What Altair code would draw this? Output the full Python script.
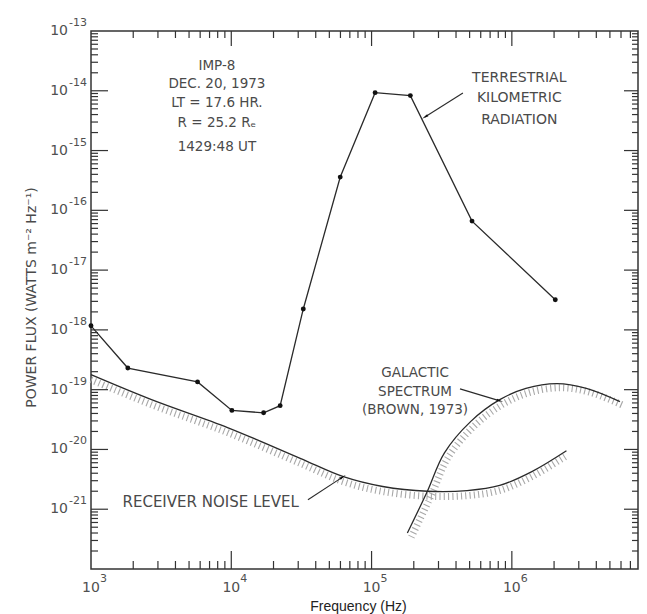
import altair as alt
import pandas as pd

# ---------------- data ----------------
tkr_freq = [1.0e3, 1.83e3, 5.75e3, 1.01e4, 1.7e4, 2.23e4, 3.26e4, 5.98e4, 1.06e5, 1.89e5, 5.2e5, 2.04e6]
tkr_flux = [1.17e-18, 2.3e-19, 1.35e-19, 4.5e-20, 4.1e-20, 5.4e-20, 2.24e-18, 3.6e-16, 9.3e-15, 8.3e-15, 6.6e-17, 3.2e-18]

noise_freq = [1.0e3, 2.7e3, 9.5e3, 3.1e4, 6.3e4, 1.2e5, 2.5e5, 4.8e5, 8.2e5, 1.4e6, 2.45e6]
noise_flux = [1.78e-19, 6.8e-20, 2.3e-20, 7.1e-21, 3.5e-21, 2.4e-21, 2.0e-21, 2.05e-21, 2.5e-21, 4.3e-21, 9.5e-21]

gal_freq = [1.8e5, 2.5e5, 3.3e5, 5.1e5, 8.2e5, 1.26e6, 2.1e6, 3.4e6, 5.9e6]
gal_flux = [4.0e-22, 2.0e-21, 8.7e-21, 2.95e-20, 6.8e-20, 1.05e-19, 1.26e-19, 1.05e-19, 6.3e-20]

imp_text = ["IMP-8", "DEC. 20, 1973", "LT = 17.6 HR.", "R = 25.2 Rₑ", "1429:48 UT"]
imp_freq = [7.9e3, 7.9e3, 7.9e3, 7.9e3, 7.9e3]
imp_flux = [2.6e-14, 1.3e-14, 6.25e-15, 2.9e-15, 1.15e-15]

tkr_text = ["TERRESTRIAL", "KILOMETRIC", "RADIATION"]
tkr_text_freq = [1.13e6, 1.13e6, 1.13e6]
tkr_text_flux = [1.64e-14, 7.6e-15, 3.25e-15]

gal_text = ["GALACTIC", "SPECTRUM", "(BROWN, 1973)"]
gal_text_freq = [2.04e5, 2.04e5, 2.04e5]
gal_text_flux = [1.91e-19, 9.2e-20, 4.6e-20]

noise_text = ["RECEIVER NOISE LEVEL"]
noise_text_freq = [7.13e3]
noise_text_flux = [1.33e-21]

# leader lines: (start, head) pairs
lead_id = ["tkr", "tkr", "gal", "gal", "noise", "noise"]
lead_freq = [4.48e5, 2.40e5, 4.27e5, 8.22e5, 3.52e4, 6.25e4]
lead_flux = [9.18e-15, 3.65e-15, 1.03e-19, 6.5e-20, 1.44e-21, 3.48e-21]
head_freq = [2.40e5, 8.22e5, 6.25e4]
head_flux = [3.65e-15, 6.5e-20, 3.48e-21]
head_angle = [238, 107, 57]

x_label_exps = [3, 4, 5, 6]
y_label_exps = [-21, -20, -19, -18, -17, -16, -15, -14, -13]

# ---------------- helpers ----------------
W, H = 547, 538
XMAX = 7.93e6

xscale = alt.Scale(type="log", domain=[1e3, XMAX], nice=False)
yscale = alt.Scale(type="log", domain=[1e-22, 1e-13], nice=False)

INK = "#2a2a2a"
TXT = "#4a4a4a"
LAB = "#505050"
FONT = "DejaVu Sans"

x_axis = alt.Axis(
    labels=False, ticks=False, tickSize=0, domain=False, grid=False,
    title="Frequency (Hz)", titleFont="Liberation Sans", titleFontSize=14,
    titleFontWeight="normal", titleColor="#222222",
    titleX=267, titleY=41, titleBaseline="alphabetic", titleAlign="center",
)
y_axis = alt.Axis(
    labels=False, ticks=False, tickSize=0, domain=False, grid=False,
    title="POWER  FLUX  (WATTS  m⁻²  Hz⁻¹)", titleFont=FONT, titleFontSize=14,
    titleFontWeight="normal", titleColor=TXT, titleAngle=270,
    titleX=-56, titleY=266, titleBaseline="alphabetic", titleAlign="center",
)

tkr_df = pd.DataFrame({"f": tkr_freq, "p": tkr_flux})
noise_df = pd.DataFrame({"f": noise_freq, "p": noise_flux})
gal_df = pd.DataFrame({"f": gal_freq, "p": gal_flux})

X = alt.X("f:Q", scale=xscale, axis=x_axis)
Y = alt.Y("p:Q", scale=yscale, axis=y_axis)
Xn = alt.X("f:Q", scale=xscale)
Yn = alt.Y("p:Q", scale=yscale)

# hatching (dashed thick stroke just below the curves)
noise_hatch = alt.Chart(noise_df).mark_line(
    interpolate="catmull-rom", strokeWidth=7, strokeDash=[1.1, 3.2], color="#a8a8a8", yOffset=5
).encode(x=X, y=Y)
gal_hatch = alt.Chart(gal_df).mark_line(
    interpolate="catmull-rom", strokeWidth=7, strokeDash=[1.1, 3.2], color="#a8a8a8", yOffset=4, xOffset=4
).encode(x=Xn, y=Yn)

noise_line = alt.Chart(noise_df).mark_line(interpolate="catmull-rom", strokeWidth=1.3, color=INK).encode(x=Xn, y=Yn)
gal_line = alt.Chart(gal_df).mark_line(interpolate="catmull-rom", strokeWidth=1.3, color=INK).encode(x=Xn, y=Yn)
tkr_line = alt.Chart(tkr_df).mark_line(strokeWidth=1.3, color=INK).encode(x=Xn, y=Yn)
tkr_pts = alt.Chart(tkr_df).mark_point(filled=True, size=24, color="#111111", opacity=1).encode(x=Xn, y=Yn)

lead_df = pd.DataFrame({"f": lead_freq, "p": lead_flux, "id": lead_id})
leads = alt.Chart(lead_df).mark_line(strokeWidth=1.1, color=INK).encode(x=Xn, y=Yn, detail="id:N")
head_df = pd.DataFrame({"f": head_freq, "p": head_flux, "a": head_angle})
heads = alt.Chart(head_df).mark_point(
    filled=True, size=45, color="#111111", opacity=1, shape="M0,-1L0.35,1L-0.35,1Z"
).encode(x=Xn, y=Yn, angle=alt.Angle("a:Q", scale=None))


def text_layer(texts, freqs, fluxes, size):
    df = pd.DataFrame({"f": freqs, "p": fluxes, "t": texts})
    return alt.Chart(df).mark_text(
        font=FONT, fontSize=size, color=TXT, align="center", baseline="middle"
    ).encode(x=Xn, y=Yn, text="t:N")


imp_layer = text_layer(imp_text, imp_freq, imp_flux, 13.5)
tkr_txt = text_layer(tkr_text, tkr_text_freq, tkr_text_flux, 14)
gal_txt = text_layer(gal_text, gal_text_freq, gal_text_flux, 13.5)
noise_txt = text_layer(noise_text, noise_text_freq, noise_text_flux, 15)

# tick labels: "10" with a raised exponent
xl_df = pd.DataFrame({"f": [10.0 ** e for e in x_label_exps], "e": [str(e) for e in x_label_exps]})
x_base = alt.Chart(xl_df).mark_text(
    font=FONT, fontSize=14, color=LAB, align="center", baseline="middle"
).encode(x=Xn, y=alt.value(H + 19), text=alt.value("10"))
x_exp = alt.Chart(xl_df).mark_text(
    font=FONT, fontSize=11, color=LAB, align="left", baseline="middle", dx=9
).encode(x=Xn, y=alt.value(H + 10), text="e:N")

yl_df = pd.DataFrame({"p": [10.0 ** e for e in y_label_exps], "e": [str(e) for e in y_label_exps]})
y_base = alt.Chart(yl_df).mark_text(
    font=FONT, fontSize=14, color=LAB, align="right", baseline="middle"
).encode(y=Yn, x=alt.value(-23), text=alt.value("10"))
y_exp = alt.Chart(yl_df).mark_text(
    font=FONT, fontSize=11, color=LAB, align="left", baseline="middle", dy=-8
).encode(y=Yn, x=alt.value(-22), text="e:N")

# inward tick marks on all four sides
x_major = [10.0 ** e for e in range(4, 7)]
x_minor = [m * 10.0 ** e for e in range(3, 7) for m in range(2, 10) if m * 10.0 ** e < XMAX]
y_major = [10.0 ** e for e in range(-21, -13)]
y_minor = [m * 10.0 ** e for e in range(-22, -13) for m in range(2, 10)]


def xticks(vals, y0, y1):
    return alt.Chart(pd.DataFrame({"f": vals})).mark_rule(color="#333333", strokeWidth=1.2).encode(
        x=Xn, y=alt.value(y0), y2=alt.value(y1))


def yticks(vals, x0, x1):
    return alt.Chart(pd.DataFrame({"p": vals})).mark_rule(color="#333333", strokeWidth=1.2).encode(
        y=Yn, x=alt.value(x0), x2=alt.value(x1))


ticks = [
    xticks(x_major, H, H - 18), xticks(x_minor, H, H - 8),
    xticks(x_major, 0, 15), xticks(x_minor, 0, 7),
    yticks(y_major, 0, 17), yticks(y_minor, 0, 7),
    yticks(y_major, W, W - 14), yticks(y_minor, W, W - 6),
]

chart = alt.layer(
    noise_hatch, gal_hatch, noise_line, gal_line, tkr_line, tkr_pts,
    leads, heads, imp_layer, tkr_txt, gal_txt, noise_txt,
    x_base, x_exp, y_base, y_exp, *ticks
).properties(
    width=W, height=H,
    autosize=alt.AutoSizeParams(type="none"),
    padding={"left": 83, "top": 23, "right": 1, "bottom": 45},
    background="white",
).configure_view(stroke="#333333", strokeWidth=1.5)

chart.save("out.html", embed_options={"renderer": "svg", "actions": False})
